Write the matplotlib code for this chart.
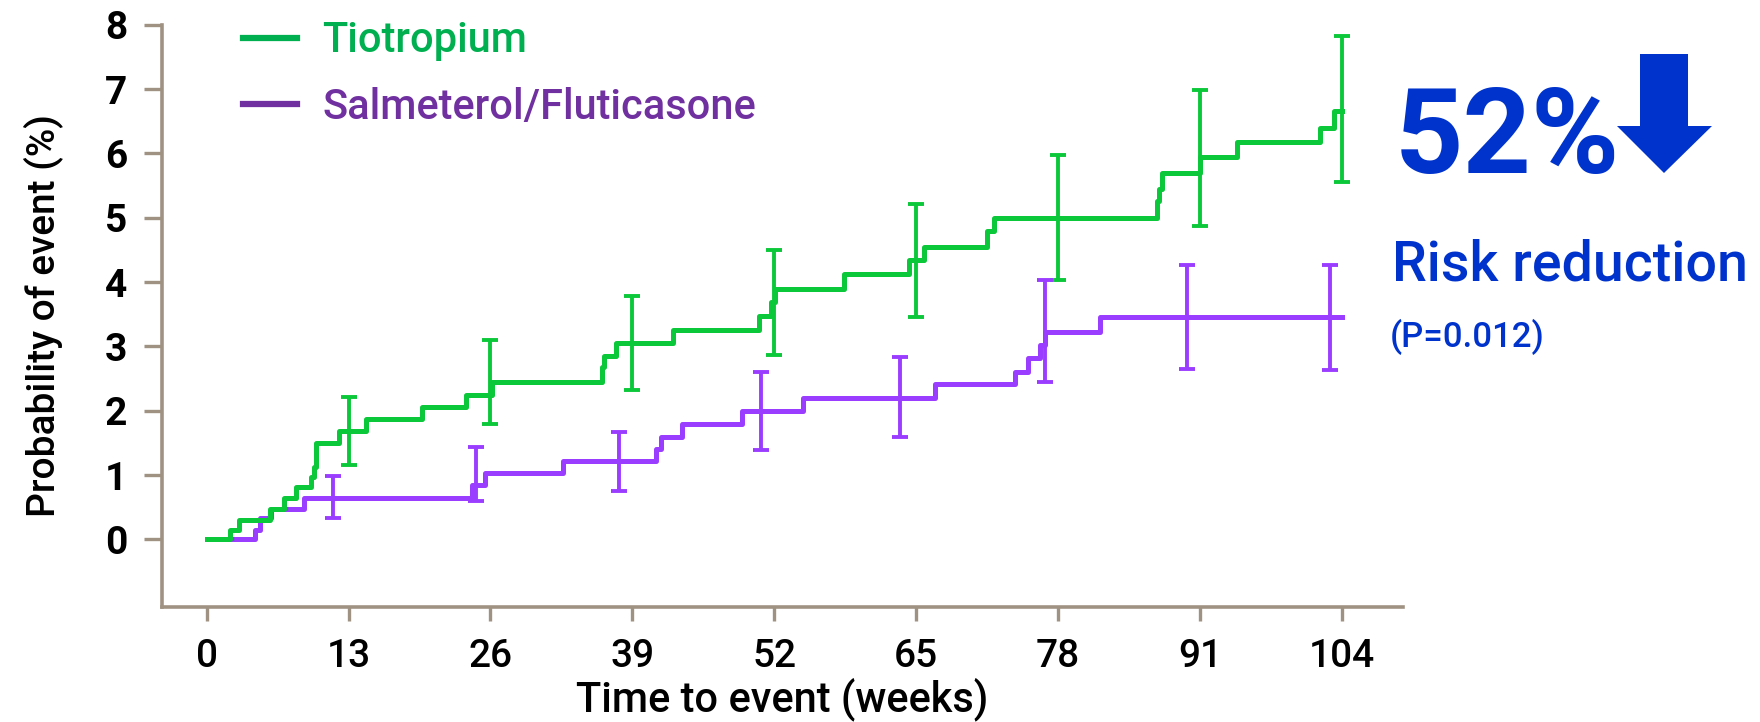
import numpy as np
import matplotlib
matplotlib.use("Agg")
import matplotlib.pyplot as plt
from matplotlib.lines import Line2D
from matplotlib.patches import Polygon

plt.rcParams['font.family'] = ['Roboto', 'DejaVu Sans']

# Kaplan-Meier style step data (weeks, % with event)
tio_weeks = [0, 2.1, 3.0, 5.8, 7.1, 8.2, 9.6, 9.8, 10.0, 12.1, 14.6, 19.7, 23.8, 26.1,
             36.2, 36.4, 37.5, 42.7, 50.6, 51.7, 52.1, 58.4, 64.3, 65.7, 71.5, 72.1,
             87.0, 87.2, 87.5, 91.0, 94.4, 102.0, 103.3, 104]
tio_prob = [0, 0.15, 0.30, 0.47, 0.64, 0.81, 0.97, 1.13, 1.50, 1.68, 1.87, 2.06, 2.25, 2.44,
            2.68, 2.85, 3.06, 3.26, 3.48, 3.69, 3.90, 4.12, 4.34, 4.55, 4.79, 5.00,
            5.26, 5.45, 5.69, 5.94, 6.17, 6.40, 6.66, 6.66]

sfc_weeks = [0, 4.4, 4.9, 5.9, 8.9, 24.3, 25.5, 32.6, 41.2, 41.6, 43.5, 49.0, 54.6,
             66.7, 74.0, 75.2, 76.3, 76.8, 81.8, 104]
sfc_prob = [0, 0.15, 0.33, 0.48, 0.65, 0.84, 1.04, 1.22, 1.40, 1.60, 1.80, 1.99, 2.20,
            2.41, 2.61, 2.82, 3.03, 3.22, 3.46, 3.46]

# 95% CI bars
tio_ci_weeks = [13, 26, 39, 52, 65, 78, 91, 104]
tio_lo = [1.16, 1.80, 2.32, 2.87, 3.46, 4.03, 4.87, 5.55]
tio_hi = [2.22, 3.10, 3.78, 4.50, 5.22, 5.97, 6.99, 7.82]

sfc_ci_weeks = [11.6, 24.7, 37.8, 50.8, 63.5, 76.8, 89.8, 102.9]
sfc_lo = [0.33, 0.60, 0.75, 1.39, 1.60, 2.45, 2.65, 2.64]
sfc_hi = [0.99, 1.44, 1.67, 2.60, 2.83, 4.03, 4.27, 4.27]

x_ticks = [0, 13, 26, 39, 52, 65, 78, 91, 104]
y_ticks = [0, 1, 2, 3, 4, 5, 6, 7, 8]

green = '#0BC83A'
purple = '#9B3DFF'
green_leg = '#00B050'
purple_leg = '#7030A0'
blue = '#0033CC'
axis_col = '#A09282'

fig = plt.figure(figsize=(17.6, 7.22), dpi=100)
ax = fig.add_axes([0.092, 0.1593, 0.705, 0.8064])

ax.step(sfc_weeks, sfc_prob, where='post', color=purple, lw=3.6, zorder=3)
ax.step(tio_weeks, tio_prob, where='post', color=green, lw=3.6, zorder=4)

for w, lo, hi, c in [(tio_ci_weeks, tio_lo, tio_hi, green), (sfc_ci_weeks, sfc_lo, sfc_hi, purple)]:
    lo = np.array(lo)
    hi = np.array(hi)
    ax.errorbar(w, (lo + hi) / 2, yerr=(hi - lo) / 2, fmt='none', ecolor=c,
                elinewidth=2.8, capsize=6, capthick=2.8, zorder=5)

ax.set_xlim(-4.09, 109.55)
ax.set_ylim(-1.05, 8)
ax.set_xticks(x_ticks)
ax.set_yticks(y_ticks)

for s in ['top', 'right']:
    ax.spines[s].set_visible(False)
for s in ['left', 'bottom']:
    ax.spines[s].set_color(axis_col)
    ax.spines[s].set_linewidth(2.6)

ax.tick_params(axis='x', length=10, width=2.4, color=axis_col, labelsize=28, pad=12)
ax.tick_params(axis='y', length=13, width=2.4, color=axis_col, labelsize=28, pad=12)
for lab in ax.get_yticklabels():
    lab.set_fontweight('bold')
for lab in ax.get_xticklabels():
    lab.set_fontweight('medium')

ax.set_xlabel('Time to event (weeks)', fontsize=30, fontweight='medium', labelpad=2)
ax.set_ylabel('Probability of event (%)', fontsize=28, fontweight='medium', labelpad=30)

handles = [Line2D([], [], color=green_leg, lw=4.5), Line2D([], [], color=purple_leg, lw=4.5)]
leg = fig.legend(handles, ['Tiotropium', 'Salmeterol/Fluticasone'], loc='upper left',
                 bbox_to_anchor=(0.138, 0.972), frameon=False,
                 prop={'size': 30, 'weight': 'medium'},
                 handlelength=1.3, handletextpad=0.6, labelspacing=0.62,
                 borderpad=0, borderaxespad=0,
                 labelcolor=[green_leg, purple_leg])

fig.text(1395 / 1760, 1 - 173 / 722, '52%', fontsize=86, fontweight='bold', color=blue,
         ha='left', va='baseline')
fig.text(1392 / 1760, 1 - 280 / 722, 'Risk reduction', fontsize=40, fontweight='medium',
         color=blue, ha='left', va='baseline')
fig.text(1390 / 1760, 1 - 347 / 722, '(P=0.012)', fontsize=25, fontweight='medium', color=blue,
         ha='left', va='baseline')

# block arrow pointing down
arrow_px = [(1640, 54), (1688, 54), (1688, 126), (1712, 126), (1664, 173),
            (1617, 126), (1640, 126)]
arrow = Polygon([(x / 1760, 1 - y / 722) for x, y in arrow_px], closed=True,
                transform=fig.transFigure, facecolor=blue, edgecolor='none')
fig.patches.append(arrow)

fig.savefig('out.png', dpi=100)
